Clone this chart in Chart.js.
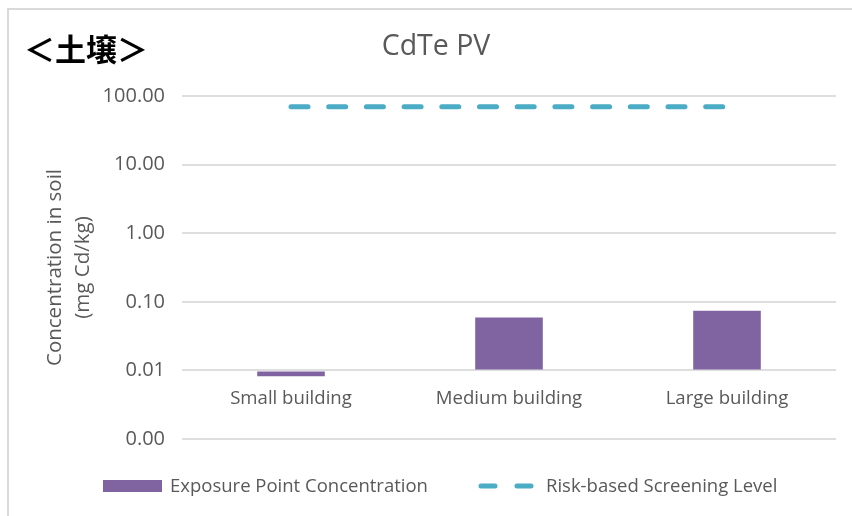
<!DOCTYPE html>
<html>
<head>
<meta charset="utf-8">
<script src="https://cdn.jsdelivr.net/npm/chart.js@4"></script>
<style>
  html, body { margin: 0; padding: 0; background: #fff; }
  #wrap { position: relative; width: 852px; height: 516px; overflow: hidden; }
  #frame { position: absolute; left: 7px; top: 8px; width: 900px; height: 600px;
           border-left: 2px solid #d9d9d9; border-top: 2px solid #d9d9d9; }
  #tag { position: absolute; left: 24px; top: 30px; font: bold 31px "Noto Sans CJK JP", sans-serif;
         color: #000; line-height: 36px; }
  canvas { position: absolute; left: 0; top: 0; }
</style>
</head>
<body>
<div id="wrap">
  <div id="frame"></div>
  <canvas id="chart" width="852" height="516"></canvas>
  <div id="tag">＜土壌＞</div>
</div>
<script>
const categories = ["Small building", "Medium building", "Large building"];
const exposure = [0.0082, 0.059, 0.074];
const screening = [70, 70, 70];
const yTicks = [0.001, 0.01, 0.1, 1, 10, 100];
const baseValue = 0.01;

const FONT = "'Open Sans', sans-serif";
const GREY = "#595959";
const PURPLE = "#8064a2";
const TEAL = "#4bacc6";

// category names sit on the 0.01 line, not at the bottom of the plot
const categoryLabels = {
  id: "categoryLabels",
  afterDatasetsDraw(chart) {
    const ctx = chart.ctx;
    const x = chart.scales.x, y = chart.scales.y;
    const yy = y.getPixelForValue(baseValue) + 28;
    ctx.save();
    ctx.font = "18.6px " + FONT;
    ctx.fillStyle = GREY;
    ctx.textAlign = "center";
    ctx.textBaseline = "middle";
    categories.forEach((c, i) => ctx.fillText(c, x.getPixelForValue(i), yy));
    ctx.restore();
  }
};

const bottomLegend = {
  id: "bottomLegend",
  afterDraw(chart) {
    const ctx = chart.ctx;
    const ds = chart.data.datasets;
    const yy = 486;
    ctx.save();
    ctx.font = "18.5px " + FONT;
    ctx.textBaseline = "middle";
    ctx.fillStyle = PURPLE;
    ctx.fillRect(103, yy - 6, 59, 12);
    ctx.fillStyle = GREY;
    ctx.fillText(ds[0].label, 170, yy + 1);
    ctx.strokeStyle = TEAL;
    ctx.lineWidth = 5;
    ctx.lineCap = "round";
    ctx.beginPath();
    ctx.moveTo(481, yy); ctx.lineTo(495, yy);
    ctx.moveTo(517, yy); ctx.lineTo(531, yy);
    ctx.stroke();
    ctx.fillText(ds[1].label, 546, yy + 1);
    ctx.restore();
  }
};

new Chart(document.getElementById("chart").getContext("2d"), {
  type: "bar",
  data: {
    labels: categories,
    datasets: [
      {
        label: "Exposure Point Concentration",
        data: exposure,
        base: baseValue,
        backgroundColor: PURPLE,
        categoryPercentage: 1,
        barPercentage: 0.31,
        order: 2
      },
      {
        type: "line",
        label: "Risk-based Screening Level",
        data: screening,
        borderColor: TEAL,
        borderWidth: 5,
        borderDash: [17, 20.7],
        borderCapStyle: "round",
        pointRadius: 0,
        fill: false,
        order: 1
      }
    ]
  },
  options: {
    responsive: false,
    animation: false,
    layout: { padding: { left: 36, right: 16, top: 0, bottom: 77 } },
    plugins: {
      legend: { display: false },
      tooltip: { enabled: false },
      title: {
        display: true,
        text: "CdTe PV",
        color: GREY,
        font: { family: FONT, size: 28.5, weight: "normal", lineHeight: 1.2 },
        padding: { top: 30, bottom: 31.8 }
      }
    },
    scales: {
      x: { display: false },
      y: {
        type: "logarithmic",
        min: 0.001,
        max: 100,
        afterBuildTicks: s => { s.ticks = yTicks.map(v => ({ value: v })); },
        afterFit: s => { s.width = 146; },
        grid: { color: "#dedede", lineWidth: 2, drawTicks: false },
        border: { display: false },
        ticks: {
          padding: 17,
          color: GREY,
          font: { family: FONT, size: 20 },
          callback: v => Number(v).toFixed(2)
        },
        title: {
          display: true,
          text: ["Concentration in soil", "(mg Cd/kg)"],
          color: GREY,
          font: { family: FONT, size: 20.5, lineHeight: 1.37 },
          padding: { top: 5, bottom: 0 }
        }
      }
    }
  },
  plugins: [categoryLabels, bottomLegend]
});
</script>
</body>
</html>
